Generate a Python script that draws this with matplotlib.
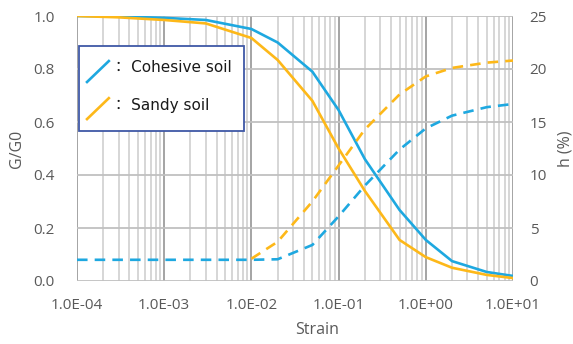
import numpy as np
import matplotlib
matplotlib.use("Agg")
import matplotlib.pyplot as plt
from matplotlib.patches import Rectangle
from matplotlib.lines import Line2D
from matplotlib.ticker import FixedLocator, LogLocator, NullFormatter, FuncFormatter

# data
strain = [1e-4, 3e-4, 1e-3, 3e-3, 1e-2, 2e-2, 5e-2, 1e-1, 2e-1, 5e-1, 1.0, 2.0, 5.0, 10.0]
g_cohesive = [1.0, 0.998, 0.993, 0.985, 0.951, 0.90, 0.79, 0.645, 0.46, 0.268, 0.155, 0.075, 0.034, 0.019]
g_sandy = [1.0, 0.995, 0.985, 0.972, 0.917, 0.834, 0.68, 0.50, 0.34, 0.155, 0.09, 0.05, 0.023, 0.011]
h_cohesive = [2.0, 2.0, 2.0, 2.0, 2.0, 2.05, 3.4, 6.1, 9.0, 12.4, 14.4, 15.6, 16.4, 16.7]
h_sandy = [np.nan, np.nan, np.nan, np.nan, 2.1, 3.7, 7.5, 10.9, 14.3, 17.6, 19.3, 20.1, 20.6, 20.8]
left_ticks = [0.0, 0.2, 0.4, 0.6, 0.8, 1.0]
right_ticks = [0, 5, 10, 15, 20, 25]
x_ticks = [1e-4, 1e-3, 1e-2, 1e-1, 1e0, 1e1]
labels = ["Cohesive soil", "Sandy soil"]

blue = "#1ea8e0"
orange = "#fdb819"
txt = "#595959"

plt.rcParams["font.family"] = ["Open Sans", "DejaVu Sans"]

fig = plt.figure(figsize=(5.73, 3.44), dpi=100)
ax = fig.add_axes([77 / 573, 1 - 281 / 344, 436 / 573, 265 / 344])
ax2 = ax.twinx()

ax.set_xscale("log")
ax.set_xlim(1e-4, 1e1)
ax.set_ylim(0, 1.0)
ax2.set_ylim(0, 25)

ax.xaxis.set_major_locator(FixedLocator(x_ticks))
ax.xaxis.set_minor_locator(LogLocator(base=10, subs=np.arange(2, 10), numticks=20))
ax.xaxis.set_minor_formatter(NullFormatter())
ax.xaxis.set_major_formatter(FuncFormatter(lambda v, p: f"{v:.1E}"))
ax.set_yticks(left_ticks)
ax.yaxis.set_major_formatter(FuncFormatter(lambda v, p: f"{v:.1f}"))
ax2.set_yticks(right_ticks)

ax.grid(which="major", axis="x", color="#8c8c8c", lw=1.1)
ax.grid(which="minor", axis="x", color="#cccccc", lw=1.1)
ax.grid(which="major", axis="y", color="#c0c0c0", lw=1.3)
ax.set_axisbelow(True)

for a in (ax, ax2):
    for s in a.spines.values():
        s.set_visible(False)
ax.tick_params(which="both", length=0, labelsize=11, colors=txt)
ax.tick_params(axis="y", pad=16)
ax.tick_params(axis="x", pad=12)
ax2.tick_params(length=0, labelsize=11, colors=txt, pad=12)

# G/G0 curves
ax.plot(strain, g_cohesive, color=blue, lw=1.9, zorder=3)
ax.plot(strain, g_sandy, color=orange, lw=1.9, zorder=3)
# damping curves
ax2.plot(strain, h_cohesive, color=blue, lw=1.9, ls=(0, (4, 2.7)))
ax2.plot(strain, h_sandy, color=orange, lw=1.9, ls=(0, (4, 2.7)))

ax.set_xlabel("Strain", fontsize=11.5, color=txt)
ax.set_ylabel("G/G0", fontsize=11.5, color=txt)
ax2.set_ylabel("h (%)", fontsize=11.5, color=txt)
ax.xaxis.set_label_coords(0.55, -0.155)
ax.yaxis.set_label_coords(-0.12, 0.5)
ax2.yaxis.set_label_coords(1.102, 0.5)

# legend box with diagonal handles
ax2.add_patch(Rectangle((0.005, 0.566), 0.378, 0.321, transform=ax2.transAxes,
                        facecolor="white", edgecolor="#3f58a6", lw=1.3, zorder=5))
for i, (lab, col) in enumerate(zip(labels, [blue, orange])):
    y0 = 0.751 - i * 0.14
    ax2.add_line(Line2D([0.023, 0.073], [y0, y0 + 0.079], color=col, lw=1.9,
                        transform=ax2.transAxes, zorder=6))
    ax2.text(0.077, 0.804 - i * 0.14, "： " + lab, transform=ax2.transAxes,
             ha="left", va="center", fontsize=11, color="#1a1a1a",
             family=["DejaVu Sans", "Noto Sans CJK JP"], zorder=6)

fig.savefig("out.png", dpi=100)
